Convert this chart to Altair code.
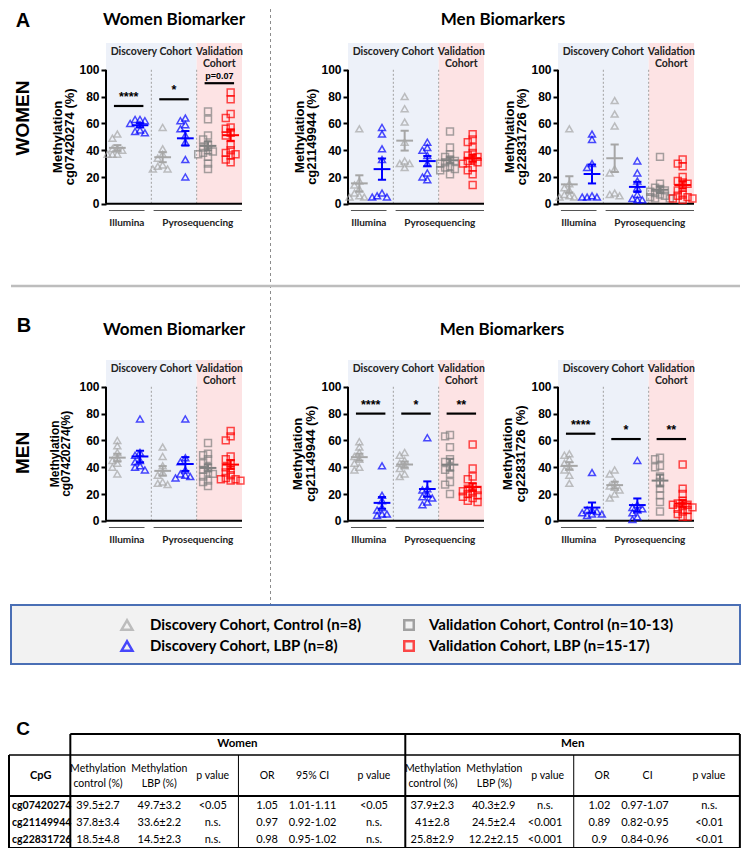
import math
import altair as alt
import numpy as np
import pandas as pd

# ------------------------------------------------------------------
# Scatter values (methylation %). Six groups per panel, in this order:
# Illumina control, Illumina LBP, Pyroseq. control, Pyroseq. LBP,
# Validation control, Validation LBP
# ------------------------------------------------------------------
WOMEN_CG07420274 = [
    [52, 49, 41, 40, 41, 37, 37, 37],
    [63, 63, 62, 60, 59, 55, 53, 54],
    [57, 41, 37, 34, 29, 26, 26, 28],
    [64, 62, 59, 56, 51, 46, 33, 20],
    [69, 63, 51, 48, 44, 42, 40, 39, 38, 37, 35, 30, 26],
    [83, 78, 67, 64, 57, 56, 53, 51, 44, 40, 38, 37, 36, 33, 31],
]
WOMEN_CG21149944 = [
    [56, 17, 14, 11, 8, 6, 5, 5],
    [57, 52, 41, 33, 8, 6, 5, 5],
    [80, 71, 61, 46, 32, 30, 30, 27],
    [46, 42, 40, 36, 30, 23, 20, 18],
    [54, 42, 37, 35, 33, 32, 31, 30, 28, 27, 26, 25, 22],
    [52, 48, 46, 42, 38, 36, 35, 33, 32, 31, 30, 27, 25, 22, 14],
]
WOMEN_CG22831726 = [
    [56, 15, 12, 10, 7, 6, 5, 5],
    [52, 48, 30, 27, 6, 5, 5, 5],
    [77, 67, 58, 26, 23, 8, 7, 6],
    [32, 23, 17, 12, 7, 4, 3, 3],
    [35, 15, 12, 11, 10, 9, 8, 7, 6, 5, 4, 4],
    [33, 30, 28, 20, 17, 16, 15, 12, 10, 7, 6, 5, 4, 4, 3],
]
MEN_CG07420274 = [
    [60, 56, 51, 47, 45, 43, 40, 35],
    [76, 51, 49, 45, 44, 41, 40, 38],
    [55, 48, 41, 36, 34, 29, 27, 28],
    [76, 47, 44, 38, 35, 34, 33, 32],
    [58, 50, 49, 46, 43, 40, 38, 36, 35, 33, 30, 29, 26],
    [67, 63, 60, 48, 46, 43, 40, 38, 36, 34, 32, 31, 30, 31, 30],
]
MEN_CG21149944 = [
    [59, 55, 51, 48, 46, 43, 40, 38],
    [41, 19, 15, 10, 8, 5, 5, 4],
    [51, 49, 45, 43, 41, 39, 35, 33],
    [62, 24, 23, 20, 18, 17, 14, 12],
    [64, 63, 55, 46, 44, 40, 38, 35, 29, 27, 20],
    [57, 39, 33, 31, 25, 24, 23, 22, 21, 20, 19, 18, 17, 15, 14],
]
MEN_CG22831726 = [
    [50, 49, 46, 43, 40, 38, 34, 28],
    [36, 8, 8, 7, 6, 5, 5, 4],
    [38, 35, 29, 26, 25, 23, 20, 17],
    [45, 12, 10, 9, 8, 6, 3, 1],
    [47, 46, 41, 40, 33, 29, 24, 19, 14, 7],
    [42, 24, 20, 15, 13, 12, 12, 11, 10, 9, 8, 7, 5, 3, 3],
]

# significance brackets: (first group of pair, height, label)
SIG_WOMEN_CG074 = [(0, 73, "****"), (2, 78, "*"), (4, 90, "p=0.07")]
SIG_MEN_CG211 = [(0, 80, "****"), (2, 80, "*"), (4, 80, "**")]
SIG_MEN_CG228 = [(0, 65, "****"), (2, 61, "*"), (4, 61, "**")]

# legend
LEGEND_LABELS = [
    "Discovery Cohort, Control (n=8)",
    "Discovery Cohort, LBP (n=8)",
    "Validation Cohort, Control (n=10-13)",
    "Validation Cohort, LBP (n=15-17)",
]

# table
CPG = ["cg07420274", "cg21149944", "cg22831726"]
W_CTRL = ["39.5±2.7", "37.8±3.4", "18.5±4.8"]
W_LBP = ["49.7±3.2", "33.6±2.2", "14.5±2.3"]
W_P = ["<0.05", "n.s.", "n.s."]
W_OR = ["1.05", "0.97", "0.98"]
W_CI = ["1.01-1.11", "0.92-1.02", "0.95-1.02"]
W_P2 = ["<0.05", "n.s.", "n.s."]
M_CTRL = ["37.9±2.3", "41±2.8", "25.8±2.9"]
M_LBP = ["40.3±2.9", "24.5±2.4", "12.2±2.15"]
M_P = ["n.s.", "<0.001", "<0.001"]
M_OR = ["1.02", "0.89", "0.9"]
M_CI = ["0.97-1.07", "0.82-0.95", "0.84-0.96"]
M_P2 = ["n.s.", "<0.01", "<0.01"]

# ------------------------------------------------------------------
# style / layout
# ------------------------------------------------------------------
ARIAL = "Liberation Sans"
CAL = "Lato"
C_GRAY_T = "#A6A6A6"
C_BLUE = "#0000FF"
C_GRAY_S = "#808080"
C_RED = "#FF0000"
BG_BLUE = "#EDF1F9"
BG_RED = "#FDE3E4"
SER = ["dc", "dl", "dc", "dl", "vc", "vl"]
SER_DOMAIN = ["dc", "dl", "vc", "vl"]
SER_COLOR = [C_GRAY_T, C_BLUE, C_GRAY_S, C_RED]
SER_SHAPE = ["triangle-up", "triangle-up", "square", "square"]
GRP_COLOR = [C_GRAY_T, C_BLUE, C_GRAY_T, C_BLUE, C_GRAY_S, C_RED]

PW = 136
UX = PW / 6.0
UY = 1.34
ROW_A_TOP, ROW_B_TOP, LEG_TOP, TAB_TOP = 42, 359, 604, 722
LEG_H = 59
H_A = ROW_B_TOP - ROW_A_TOP
H_B = 180
LAB_W, GAP1, GAP2 = 97, 106, 74
Y_MID = (120 - 50) * UY   # pixel row of the middle of the 0-100 axis

ONE = [{"k": 0}]


def note(text, x, y, size, weight="bold", font=ARIAL, angle=0, align="center",
         color="black", baseline="middle"):
    return alt.Chart(alt.Data(values=[{"t": text}])).mark_text(
        fontSize=size, fontWeight=weight, font=font, angle=angle, align=align,
        baseline=baseline, color=color
    ).encode(x=alt.value(x), y=alt.value(y), text="t:N")


def rule_px(x, x2, y, y2, w, color="black", dash=None):
    kw = dict(color=color, strokeWidth=w)
    if dash:
        kw["strokeDash"] = dash
    return alt.Chart(alt.Data(values=ONE)).mark_rule(**kw).encode(
        x=alt.value(x), x2=alt.value(x2), y=alt.value(y), y2=alt.value(y2))


def sym_px(x, y, shape, color, size, sw):
    return alt.Chart(alt.Data(values=ONE)).mark_point(
        shape=shape, filled=False, color=color, size=size, strokeWidth=sw
    ).encode(x=alt.value(x), y=alt.value(y))


def spacer(w, h):
    return alt.Chart(alt.Data(values=ONE)).mark_point(opacity=0).encode(
        x=alt.value(0), y=alt.value(0)).properties(width=w, height=h)


def swarm(vals):
    step = 4.9
    order = sorted(range(len(vals)), key=lambda i: -vals[i])
    placed, off = [], [0.0] * len(vals)
    cands = [0, -1, 1, -2, 2]
    for i in order:
        yp = vals[i] * UY
        chosen = None
        for c in cands:
            xp = c * step
            if all(math.hypot(xp - a, yp - b) >= step for a, b in placed):
                chosen = xp
                break
        if chosen is None:
            chosen = min((c * step for c in cands),
                         key=lambda xp: sum(1 for a, b in placed if math.hypot(xp - a, yp - b) < step))
        placed.append((chosen, yp))
        off[i] = chosen / UX
    return off


def panel(groups, ytitle, sig, h, tx=(-48, -36), tsize=13, extras=()):
    dom = [120 - h / UY, 120]
    xsc = alt.Scale(domain=[0, 6], nice=False, zero=False)
    ysc = alt.Scale(domain=dom, nice=False, zero=False)
    yaxis = alt.Axis(values=[0, 20, 40, 60, 80, 100], domain=False, grid=False, title=None,
                     labelFont=ARIAL, labelFontWeight="bold", labelFontSize=12, labelColor="black",
                     labelPadding=2, tickColor="black", tickWidth=2, tickSize=5)

    def X(f):
        return alt.X(f, type="quantitative", scale=xsc, axis=None)

    def Y(f):
        return alt.Y(f, type="quantitative", scale=ysc, axis=yaxis)

    layers = []
    bg = pd.DataFrame({"x": [0, 4], "x2": [4, 6], "y": [0, 0], "y2": [120, 120], "c": [BG_BLUE, BG_RED]})
    layers.append(alt.Chart(bg).mark_rect().encode(
        x=X("x"), x2="x2:Q", y=Y("y"), y2="y2:Q", color=alt.Color("c:N", scale=None)))
    div = pd.DataFrame({"x": [2, 4], "y": [0, 0], "y2": [100, 100]})
    layers.append(alt.Chart(div).mark_rule(color="#A0A0A0", strokeDash=[2, 2], strokeWidth=1).encode(
        x=X("x"), y=Y("y"), y2="y2:Q"))
    ax = pd.DataFrame({"x": [0, 0], "x2": [0, 6], "y": [0, 0], "y2": [100, 0]})
    layers.append(alt.Chart(ax).mark_rule(color="black", strokeWidth=2).encode(
        x=X("x"), x2="x2:Q", y=Y("y"), y2="y2:Q"))
    bl = pd.DataFrame({"x": [0.13, 2.1], "x2": [1.7, 6.0], "y": [-5, -5], "y2": [-5, -5]})
    layers.append(alt.Chart(bl).mark_rule(color="#555555", strokeWidth=1.2).encode(
        x=X("x"), x2="x2:Q", y=Y("y"), y2="y2:Q"))
    btxt = pd.DataFrame({"x": [0.92, 4.05], "y": [-14, -14], "t": ["Illumina", "Pyrosequencing"]})
    layers.append(alt.Chart(btxt).mark_text(font=CAL, fontWeight="bold", fontSize=10, color="#222222").encode(
        x=X("x"), y=Y("y"), text="t:N"))
    hdr = pd.DataFrame({"x": [2, 5, 5], "y": [113, 113, 104], "t": ["Discovery Cohort", "Validation", "Cohort"]})
    layers.append(alt.Chart(hdr).mark_text(font=CAL, fontWeight="bold", fontSize=10.5, color="#222222").encode(
        x=X("x"), y=Y("y"), text="t:N"))

    # points
    rows = []
    for g, vals in enumerate(groups):
        for v, o in zip(vals, swarm(vals)):
            rows.append({"xj": g + 0.5 + o, "v": v, "s": SER[g]})
    pts = pd.DataFrame(rows)
    layers.append(alt.Chart(pts).mark_point(filled=False, strokeWidth=1.5, size=48).encode(
        x=X("xj"), y=Y("v"),
        color=alt.Color("s:N", scale=alt.Scale(domain=SER_DOMAIN, range=SER_COLOR), legend=None),
        shape=alt.Shape("s:N", scale=alt.Scale(domain=SER_DOMAIN, range=SER_SHAPE), legend=None)))

    # mean +/- SEM
    seg = []
    for g, vals in enumerate(groups):
        a = np.array(vals, float)
        m = a.mean()
        s = a.std(ddof=1) / math.sqrt(len(a))
        c = g + 0.5
        col = GRP_COLOR[g]
        seg += [
            {"x": c - 0.37, "x2": c + 0.37, "y": m, "y2": m, "c": col},
            {"x": c, "x2": c, "y": m - s, "y2": m + s, "c": col},
            {"x": c - 0.18, "x2": c + 0.18, "y": m + s, "y2": m + s, "c": col},
            {"x": c - 0.18, "x2": c + 0.18, "y": m - s, "y2": m - s, "c": col},
        ]
    layers.append(alt.Chart(pd.DataFrame(seg)).mark_rule(strokeWidth=2).encode(
        x=X("x"), x2="x2:Q", y=Y("y"), y2="y2:Q", color=alt.Color("c:N", scale=None)))

    if sig:
        sb = pd.DataFrame([{"x": g + 0.35, "x2": g + 1.65, "y": hgt, "y2": hgt} for g, hgt, _ in sig])
        layers.append(alt.Chart(sb).mark_rule(color="black", strokeWidth=2.2).encode(
            x=X("x"), x2="x2:Q", y=Y("y"), y2="y2:Q"))
        st = pd.DataFrame([{"x": g + 1, "y": hgt + 1.5, "t": lab,
                            "fs": 9 if lab.startswith("p") else 12.5} for g, hgt, lab in sig])
        layers.append(alt.Chart(st).mark_text(font=ARIAL, fontWeight="bold", baseline="bottom", color="black").encode(
            x=X("x"), y=Y("y"), text="t:N", size=alt.Size("fs:Q", scale=None)))

    # y-axis title (two lines), centred on the 0-100 part of the axis
    layers.append(note(ytitle[0], tx[0], Y_MID, tsize, angle=270))
    layers.append(note(ytitle[1], tx[1], Y_MID, tsize, angle=270))

    layers += list(extras)
    return alt.layer(*layers).properties(width=PW, height=h)


def legend_layers(oy):
    L = [alt.Chart(alt.Data(values=ONE)).mark_rect(
        fill="#F2F2F2", stroke="#4A6FB5", strokeWidth=2).encode(
        x=alt.value(2), x2=alt.value(731), y=alt.value(oy), y2=alt.value(oy + LEG_H))]
    r1, r2 = oy + 20, oy + 41
    L.append(sym_px(118, r1, "triangle-up", C_GRAY_T, 120, 2.5))
    L.append(sym_px(118, r2, "triangle-up", C_BLUE, 120, 2.5))
    L.append(sym_px(400, r1, "square", C_GRAY_S, 90, 2.5))
    L.append(sym_px(400, r2, "square", C_RED, 90, 2.5))
    L.append(note(LEGEND_LABELS[0], 141, r1, 15, font=CAL, align="left"))
    L.append(note(LEGEND_LABELS[1], 141, r2, 15, font=CAL, align="left"))
    L.append(note(LEGEND_LABELS[2], 420, r1, 15, font=CAL, align="left"))
    L.append(note(LEGEND_LABELS[3], 420, r2, 15, font=CAL, align="left"))
    return L


def table_layers(oy):
    sx = lambda r: r * 0.989
    L = []
    lines = [
        (62, 739, 11, 11, 2), (0, 739, 32, 32, 1.5), (0, 739, 73, 73, 2), (0, 739, 125, 125, 2),
        (0, 0, 32, 125, 2), (62, 62, 11, 125, 2), (400.7, 400.7, 11, 125, 2), (739, 739, 11, 125, 2),
        (232, 232, 32, 125, 1), (571, 571, 32, 125, 1),
    ]
    for x, x2, y, y2, w in lines:
        L.append(rule_px(sx(x), sx(x2), oy + y, oy + y2, w))
    L.append(note("C", 14, oy + 6, 19, font=ARIAL))
    L.append(note("Women", sx(231), oy + 21, 11.5, font=CAL))
    L.append(note("Men", sx(570), oy + 21, 11.5, font=CAL))
    L.append(note("CpG", sx(32), oy + 53, 11, font=CAL))
    for base, ci in ((62, "95% CI"), (400.7, "CI")):
        L.append(note("Methylation", sx(base + 28), oy + 46, 10.5, weight="normal", font=CAL))
        L.append(note("control (%)", sx(base + 28), oy + 61, 10.5, weight="normal", font=CAL))
        L.append(note("Methylation", sx(base + 90), oy + 46, 10.5, weight="normal", font=CAL))
        L.append(note("LBP (%)", sx(base + 90), oy + 61, 10.5, weight="normal", font=CAL))
        L.append(note("p value", sx(base + 144), oy + 53, 10.5, weight="normal", font=CAL))
        L.append(note("OR", sx(base + 199), oy + 53, 10.5, weight="normal", font=CAL))
        L.append(note(ci, sx(base + 245), oy + 53, 10.5, weight="normal", font=CAL))
        L.append(note("p value", sx(base + 307), oy + 53, 10.5, weight="normal", font=CAL))
    ysc = alt.Scale(domain=[0, 2], range=[oy + 83, oy + 117], nice=False, zero=False)
    cols = [(CPG, 33, "bold", 10.5), (W_CTRL, 90, "normal", 11), (W_LBP, 152, "normal", 11),
            (W_P, 206, "normal", 11), (W_OR, 261, "normal", 11), (W_CI, 307, "normal", 11),
            (W_P2, 369, "normal", 11), (M_CTRL, 428, "normal", 11), (M_LBP, 490, "normal", 11),
            (M_P, 542, "normal", 11), (M_OR, 597, "normal", 11), (M_CI, 643, "normal", 11),
            (M_P2, 708, "normal", 11)]
    for vals, cx, wt, fs in cols:
        df = pd.DataFrame({"ri": [0, 1, 2], "t": vals})
        L.append(alt.Chart(df).mark_text(font=CAL, fontSize=fs, fontWeight=wt, color="black").encode(
            x=alt.value(sx(cx)), y=alt.Y("ri:Q", scale=ysc, axis=None), text="t:N"))
    return L


# ------------------------------------------------------------------
lab_a = alt.layer(
    note("A", 14, -22, 20),
    note("WOMEN", 14, 75, 19, angle=270),
    rule_px(261.5, 261.5, -34, LEG_TOP - ROW_A_TOP, 1, color="#8C8C8C", dash=[3, 3]),
).properties(width=LAB_W, height=H_A)
lab_b = alt.layer(
    rule_px(2, 731, 285 - ROW_B_TOP, 285 - ROW_B_TOP, 2.5, color="#BDBDBD"),
    note("B", 15, -34, 20),
    note("MEN", 14, 93, 19, angle=270),
    *legend_layers(LEG_TOP - ROW_B_TOP),
    *table_layers(TAB_TOP - ROW_B_TOP),
).properties(width=LAB_W, height=H_B)

a1 = panel(WOMEN_CG07420274, ["Methylation", "cg07420274 (%)"], SIG_WOMEN_CG074, H_A,
           extras=[note("Women Biomarker", 68, -23, 17, font=CAL)])
a2 = panel(WOMEN_CG21149944, ["Methylation", "cg21149944 (%)"], None, H_A,
           extras=[note("Men Biomarkers", 155, -23, 17, font=CAL)])
a3 = panel(WOMEN_CG22831726, ["Methylation", "cg22831726 (%)"], None, H_A)
b1 = panel(MEN_CG07420274, ["Methylation", "cg07420274(%)"], None, H_B, tx=(-51, -40), tsize=12,
           extras=[note("Women Biomarker", 68, -30, 17, font=CAL)])
b2 = panel(MEN_CG21149944, ["Methylation", "cg21149944 (%)"], SIG_MEN_CG211, H_B, tx=(-50, -37),
           extras=[note("Men Biomarkers", 154, -30, 17, font=CAL)])
b3 = panel(MEN_CG22831726, ["Methylation", "cg22831726 (%)"], SIG_MEN_CG228, H_B, tx=(-50, -37))

items = [lab_a, a1, spacer(GAP1, H_A), a2, spacer(GAP2, H_A), a3,
         lab_b, b1, spacer(GAP1, H_B), b2, spacer(GAP2, H_B), b3]

chart = alt.concat(*items, columns=6, spacing=0, bounds="flush", align="each").properties(
    padding=0, background="white").configure_view(stroke=None)

chart.save("out.html", embed_options={"renderer": "svg", "actions": False})
